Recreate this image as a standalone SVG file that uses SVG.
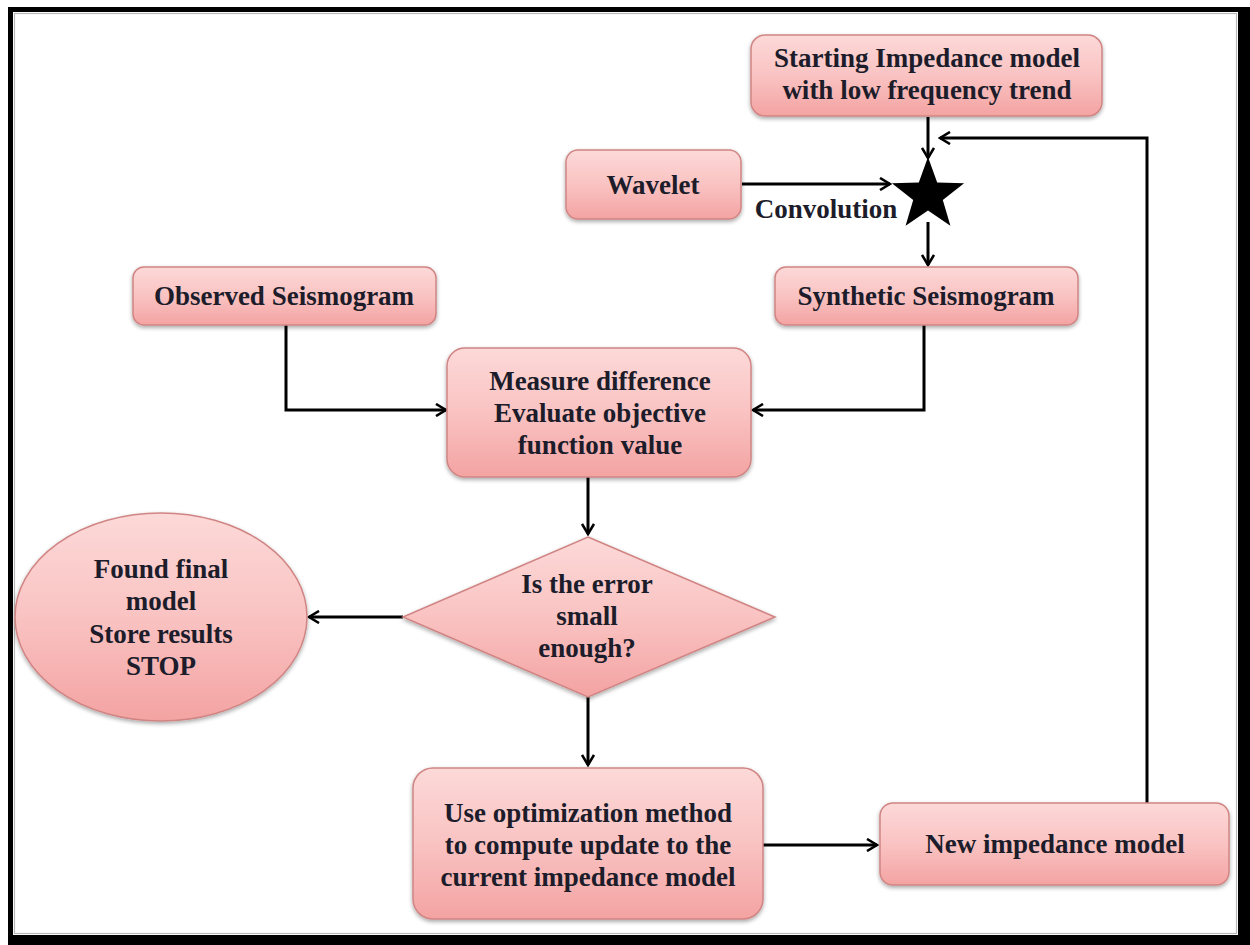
<svg xmlns="http://www.w3.org/2000/svg" width="1250" height="945" viewBox="0 0 1250 945">
  <defs>
    <linearGradient id="pink" x1="0" y1="0" x2="0" y2="1">
      <stop offset="0" stop-color="#fcd9d8"/>
      <stop offset="0.5" stop-color="#f9c3c2"/>
      <stop offset="1" stop-color="#f3a3a2"/>
    </linearGradient>
    <filter id="shadow" x="-10%" y="-10%" width="120%" height="130%">
      <feGaussianBlur in="SourceAlpha" stdDeviation="2"/>
      <feOffset dx="0" dy="2" result="b"/>
      <feComponentTransfer><feFuncA type="linear" slope="0.35"/></feComponentTransfer>
      <feMerge><feMergeNode/><feMergeNode in="SourceGraphic"/></feMerge>
    </filter>
    <marker id="arrow" viewBox="0 0 14 14" refX="12" refY="7" markerWidth="14" markerHeight="14" markerUnits="userSpaceOnUse" orient="auto">
      <path d="M2,1 L12,7 L2,13" fill="none" stroke="#000" stroke-width="2.6"/>
    </marker>
  </defs>
  <style>
    .box { fill: url(#pink); stroke: #d08584; stroke-width: 1.5; filter: url(#shadow); }
    .lbl { font-family: "Liberation Serif", "Times New Roman", serif; font-weight: bold; font-size: 27px; fill: #1c1c2a; text-anchor: middle; }
    .wire { fill: none; stroke: #000; stroke-width: 3; marker-end: url(#arrow); }
  </style>

  <!-- page frame -->
  <rect x="0" y="0" width="1250" height="945" fill="#fff"/>
  <rect x="8" y="7" width="1242" height="5" fill="#000"/>
  <rect x="8" y="7" width="5" height="938" fill="#000"/>
  <rect x="1238" y="7" width="12" height="938" fill="#000"/>
  <rect x="8" y="935" width="1242" height="10" fill="#000"/>
  <rect x="14.5" y="13.5" width="1222" height="920" fill="none" stroke="#b8b8b8" stroke-width="1.2"/>

  <!-- connectors -->
  <g id="connectors">
    <path class="wire" d="M928,117 V158"/>
    <path class="wire" d="M1147,803 V138 H940"/>
    <path class="wire" d="M742,184 H890"/>
    <path class="wire" d="M928,222 V265"/>
    <path class="wire" d="M286,325 V410 H446"/>
    <path class="wire" d="M924,325 V410 H753"/>
    <path class="wire" d="M588,477 V534"/>
    <path class="wire" d="M403,617 H309"/>
    <path class="wire" d="M588,697 V765"/>
    <path class="wire" d="M763,845 H877"/>
  </g>

  <g id="start-model">
    <rect class="box" x="751" y="35" width="351" height="81" rx="14"/>
    <text class="lbl" x="927" y="67">Starting Impedance model</text>
    <text class="lbl" x="927" y="99">with low frequency trend</text>
  </g>

  <g id="wavelet">
    <rect class="box" x="566" y="150" width="175" height="69" rx="12"/>
    <text class="lbl" x="653" y="194">Wavelet</text>
  </g>

  <g id="convolution">
    <polygon points="928,157 937.2,182.6 964.1,183.3 942.8,199.9 950.4,225.7 928,210.5 905.6,225.7 913.2,199.9 891.9,183.3 918.8,182.6" fill="#000"/>
    <text class="lbl" x="826" y="218">Convolution</text>
  </g>

  <g id="synthetic">
    <rect class="box" x="775" y="267" width="303" height="58" rx="11"/>
    <text class="lbl" x="926" y="305">Synthetic Seismogram</text>
  </g>

  <g id="observed">
    <rect class="box" x="133" y="267" width="303" height="58" rx="11"/>
    <text class="lbl" x="284" y="305">Observed Seismogram</text>
  </g>

  <g id="measure">
    <rect class="box" x="447" y="348" width="304" height="129" rx="18"/>
    <text class="lbl" x="600" y="390">Measure difference</text>
    <text class="lbl" x="600" y="422">Evaluate objective</text>
    <text class="lbl" x="600" y="454">function value</text>
  </g>

  <g id="decision">
    <polygon class="box" points="588,537 775,617 588,697 403,617"/>
    <text class="lbl" x="587" y="593">Is the error</text>
    <text class="lbl" x="587" y="625">small</text>
    <text class="lbl" x="587" y="657">enough?</text>
  </g>

  <g id="stop">
    <ellipse class="box" cx="161" cy="617" rx="146" ry="104"/>
    <text class="lbl" x="161" y="578">Found final</text>
    <text class="lbl" x="161" y="610">model</text>
    <text class="lbl" x="161" y="643">Store results</text>
    <text class="lbl" x="161" y="675">STOP</text>
  </g>

  <g id="optimize">
    <rect class="box" x="413" y="768" width="350" height="151" rx="20"/>
    <text class="lbl" x="588" y="822">Use optimization method</text>
    <text class="lbl" x="588" y="854">to compute update to the</text>
    <text class="lbl" x="588" y="886">current impedance model</text>
  </g>

  <g id="new-model">
    <rect class="box" x="880" y="803" width="349" height="82" rx="13"/>
    <text class="lbl" x="1055" y="853">New impedance model</text>
  </g>
</svg>
